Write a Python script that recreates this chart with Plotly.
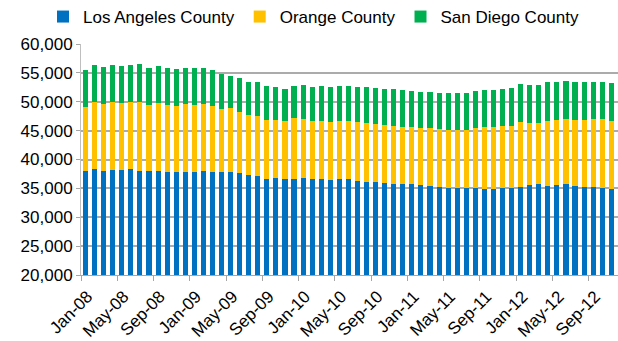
import plotly.graph_objects as go

# Monthly labels Jan-08 .. Dec-12
months = ["Jan", "Feb", "Mar", "Apr", "May", "Jun",
          "Jul", "Aug", "Sep", "Oct", "Nov", "Dec"]
years = ["08", "09", "10", "11", "12"]
periods = [f"{m}-{y}" for y in years for m in months]

# Values per county
los_angeles = [38005, 38300, 38070, 38240, 38125, 38355, 38005, 38005, 38070, 37830,
               37780, 37830, 37830, 37950, 37780, 37780, 37830, 37600, 37310, 37140,
               36685, 36740, 36565, 36685, 36740, 36565, 36565, 36390, 36565, 36565,
               36220, 36160, 36045, 35870, 35750, 35700, 35700, 35520, 35470, 35230,
               35150, 35120, 35000, 35000, 34880, 34880, 35000, 35120, 35230, 35580,
               35700, 35470, 35580, 35700, 35410, 35230, 35230, 35120, 34940, 35060]
orange = [11060, 11580, 11510, 11640, 11575, 11525, 12000, 11405, 11630, 11580,
          11520, 11700, 11580, 11630, 11400, 10880, 11010, 10650, 10310, 10310,
          10175, 10120, 10065, 10465, 10300, 10125, 10125, 10070, 10155, 10125,
          10240, 10125, 10065, 10120, 10130, 10010, 9890, 9900, 9950, 10070,
          9970, 10000, 10120, 10470, 10710, 10710, 10765, 10760, 11350, 10705,
          10700, 11280, 11230, 11280, 11400, 11580, 11750, 11860, 11810, 11750]
san_diego = [6420, 6475, 6480, 6475, 6480, 6475, 6485, 6480, 6480, 6365,
             6300, 6360, 6365, 6305, 6250, 6130, 5660, 5790, 5730, 5900,
             5790, 5620, 5610, 5610, 5840, 5845, 5960, 6075, 5930, 6070,
             6075, 6195, 6310, 6250, 6250, 6360, 6250, 6190, 6300, 6190,
             6320, 6430, 6430, 6370, 6420, 6420, 6475, 6480, 6480, 6595,
             6540, 6600, 6650, 6600, 6650, 6540, 6480, 6480, 6480, 6540]

series = [
    ("Los Angeles County", los_angeles, "#0070C0"),
    ("Orange County", orange, "#FFC000"),
    ("San Diego County", san_diego, "#00B050"),
]

FONT = "Liberation Sans, Arial, sans-serif"

fig = go.Figure()
for name, vals, color in series:
    fig.add_trace(go.Bar(
        x=periods, y=vals, name=name,
        marker=dict(color=color, line=dict(width=0)),
    ))

fig.update_layout(
    barmode="stack",
    bargap=0.44,
    width=618, height=341,
    margin=dict(l=81, r=0, t=44, b=66, autoexpand=False),
    paper_bgcolor="white",
    plot_bgcolor="white",
    font=dict(family=FONT, size=17, color="#000000"),
    legend=dict(
        orientation="h",
        traceorder="normal",
        xref="container", yref="container",
        x=43 / 618, xanchor="left",
        y=1 - 17 / 341, yanchor="middle",
        font=dict(size=17, color="#000000"),
        itemclick=False,
        bgcolor="rgba(0,0,0,0)",
    ),
    xaxis=dict(
        type="category",
        categoryorder="array", categoryarray=periods,
        range=[-0.5, 58.74],
        tickmode="linear", tick0=0, dtick=4,
        tickson="boundaries",
        tickangle=-45,
        automargin=False,
        ticklabelstandoff=4,
        ticklabelshift=2,
        ticks="outside", ticklen=5, tickcolor="#A6A6A6",
        showline=True, linecolor="#A6A6A6", linewidth=1,
        showgrid=False,
        tickfont=dict(size=17),
    ),
    yaxis=dict(
        range=[20000, 60000],
        tickmode="linear", tick0=20000, dtick=5000,
        tickformat=",",
        automargin=False,
        ticks="outside", ticklen=4, tickcolor="#A6A6A6",
        showline=True, linecolor="#BFBFBF", linewidth=1,
        showgrid=True, gridcolor="#ABABAB", gridwidth=1.5,
        zeroline=False,
        tickfont=dict(size=17),
    ),
)

fig.write_html("out.html")
